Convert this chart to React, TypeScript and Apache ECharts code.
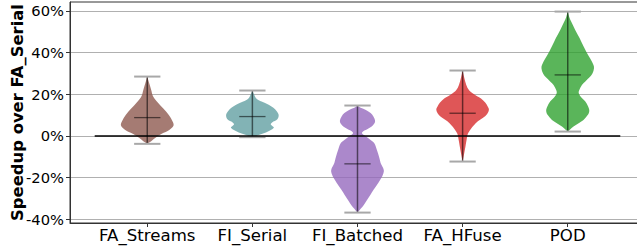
import React, { useEffect, useRef } from "react";
import * as echarts from "echarts";

const CATEGORIES = ["FA_Streams", "FI_Serial", "FI_Batched", "FA_HFuse", "POD"];
const COLORS = ["#8c564b", "#5f9ea0", "#9467bd", "#d62728", "#2ca02c"];
const MINS = [-3.8, -0.6, -36.8, -12.3, 2.1];
const MAXS = [28.5, 21.8, 14.6, 31.4, 59.7];
const MEDIANS = [8.8, 9.3, -13.4, 10.9, 29.3];
const Y_TICKS = [-40, -20, 0, 20, 40, 60];

// [value (%), relative density 0..1]
const PROFILE_FA_STREAMS = [
  [28.5, 0], [25, 0.08], [22, 0.15], [19, 0.22], [16, 0.4], [13, 0.62], [10, 0.82],
  [7, 0.96], [5, 1.0], [3, 0.85], [1, 0.55], [-1, 0.3], [-2.5, 0.15], [-3.8, 0],
];
const PROFILE_FI_SERIAL = [
  [21.8, 0], [20, 0.06], [18, 0.15], [16.5, 0.35], [15, 0.62], [13.5, 0.8], [12, 0.92],
  [10, 1.0], [8, 0.95], [6.5, 0.75], [5.5, 0.7], [4, 0.82], [2.5, 0.65], [1, 0.38],
  [0, 0.15], [-0.6, 0],
];
const PROFILE_FI_BATCHED = [
  [14.6, 0], [13.5, 0.12], [12.5, 0.32], [11, 0.5], [9.5, 0.6], [7, 0.67], [5, 0.58],
  [3.5, 0.4], [2.3, 0.22], [1.3, 0.17], [0, 0.3], [-2, 0.5], [-3.5, 0.64], [-6, 0.72],
  [-8.3, 0.78], [-11, 0.84], [-13, 0.88], [-16.3, 1.0], [-18.5, 0.97], [-20.3, 0.9],
  [-24.3, 0.7], [-27, 0.55], [-29.1, 0.45], [-31, 0.35], [-33.1, 0.24], [-35, 0.12],
  [-36.8, 0],
];
const PROFILE_FA_HFUSE = [
  [31.4, 0], [28, 0.06], [24.5, 0.14], [22, 0.24], [20.5, 0.38], [19, 0.55], [18, 0.7],
  [16, 0.86], [14, 0.96], [12.5, 1.0], [10, 0.9], [8.5, 0.75], [7, 0.58], [5, 0.42],
  [3.5, 0.32], [1, 0.2], [-2, 0.15], [-5, 0.11], [-9, 0.05], [-12.3, 0],
];
const PROFILE_POD = [
  [59.7, 0], [57, 0.06], [54.9, 0.13], [51, 0.28], [47, 0.45], [43, 0.6], [40.5, 0.7],
  [37, 0.86], [34, 0.98], [32.5, 1.0], [30, 0.94], [28, 0.82], [26, 0.66], [24.5, 0.54],
  [22, 0.44], [20.5, 0.42], [18.5, 0.52], [16.5, 0.67], [14, 0.78], [12, 0.82],
  [10, 0.76], [7.7, 0.6], [6, 0.4], [4.5, 0.22], [3, 0.08], [2.1, 0],
];
const PROFILES = [PROFILE_FA_STREAMS, PROFILE_FI_SERIAL, PROFILE_FI_BATCHED, PROFILE_FA_HFUSE, PROFILE_POD];

const HALF_WIDTH = 0.25;
const CAP_HALF = 0.125;
const ZERO_LINE = [[0.5, 0], [5.5, 0]];

export default function App() {
  const ref = useRef<HTMLDivElement>(null);
  useEffect(() => {
    if (!ref.current) return;
    const chart = echarts.init(ref.current, null, { renderer: "svg" });
    const font = "DejaVu Sans";
    chart.setOption({
      animation: false,
      grid: {
        left: 70, right: -2, top: 2, bottom: 26,
        containLabel: false,
        outerBoundsMode: "none",
        show: true, borderColor: "#333", borderWidth: 1,
      },
      xAxis: {
        type: "value",
        min: 0.265,
        max: 5.678,
        axisLine: { show: true, onZero: false, lineStyle: { color: "#333", width: 1 } },
        axisTick: { show: true, length: 4, customValues: [1, 2, 3, 4, 5], lineStyle: { color: "#333" } },
        axisLabel: {
          customValues: [1, 2, 3, 4, 5],
          formatter: (v: number) => CATEGORIES[Math.round(v) - 1] ?? "",
          color: "#000", fontFamily: font, fontSize: 16.6, margin: 4,
        },
        splitLine: { show: false },
      },
      yAxis: {
        type: "value",
        min: -41.8,
        max: 64.3,
        name: "Speedup over FA_Serial",
        nameLocation: "middle",
        nameGap: 45,
        nameMoveOverlap: false,
        nameTextStyle: { fontFamily: font, fontWeight: "bold", fontSize: 16.4, color: "#000" },
        axisLine: { show: true, lineStyle: { color: "#333", width: 1 } },
        axisTick: { show: true, length: 4, customValues: Y_TICKS, lineStyle: { color: "#333" } },
        axisLabel: {
          customValues: Y_TICKS,
          formatter: (v: number) => `${v}%`,
          color: "#000", fontFamily: font, fontSize: 14.7, margin: 6,
        },
        splitLine: { show: true, lineStyle: { color: "#b0b0b0", width: 1 } },
      },
      series: [
        {
          type: "custom",
          clip: false,
          data: CATEGORIES.map((_, i) => [i + 1, MEDIANS[i], MINS[i], MAXS[i]]),
          encode: { x: 0, y: [1, 2, 3] },
          renderItem: (params: any, api: any) => {
            const i = params.dataIndex;
            const pos = i + 1;
            const prof = PROFILES[i];
            const leftPts = prof.map(([v, d]) => api.coord([pos - d * HALF_WIDTH, v]));
            const rightPts = prof.slice().reverse().map(([v, d]) => api.coord([pos + d * HALF_WIDTH, v]));
            const pts = leftPts.concat(rightPts);
            const top = api.coord([pos, MAXS[i]]);
            const bot = api.coord([pos, MINS[i]]);
            const capTL = api.coord([pos - CAP_HALF, MAXS[i]]);
            const capTR = api.coord([pos + CAP_HALF, MAXS[i]]);
            const capBL = api.coord([pos - CAP_HALF, MINS[i]]);
            const capBR = api.coord([pos + CAP_HALF, MINS[i]]);
            const medL = api.coord([pos - CAP_HALF, MEDIANS[i]]);
            const medR = api.coord([pos + CAP_HALF, MEDIANS[i]]);
            return {
              type: "group",
              children: [
                {
                  type: "polygon",
                  shape: { points: pts, smooth: 0.35 },
                  style: { fill: COLORS[i], opacity: 0.78, stroke: "none" },
                },
                {
                  type: "line",
                  shape: { x1: top[0], y1: top[1], x2: bot[0], y2: bot[1] },
                  style: { stroke: "rgba(0,0,0,0.55)", lineWidth: 1.5 },
                },
                {
                  type: "line",
                  shape: { x1: capTL[0], y1: capTL[1], x2: capTR[0], y2: capTR[1] },
                  style: { stroke: "#a8a8a8", lineWidth: 2 },
                },
                {
                  type: "line",
                  shape: { x1: capBL[0], y1: capBL[1], x2: capBR[0], y2: capBR[1] },
                  style: { stroke: "#a8a8a8", lineWidth: 2 },
                },
                {
                  type: "line",
                  shape: { x1: medL[0], y1: medL[1], x2: medR[0], y2: medR[1] },
                  style: { stroke: "rgba(0,0,0,0.55)", lineWidth: 1.3 },
                },
              ],
            };
          },
        },
        {
          type: "line",
          data: ZERO_LINE,
          showSymbol: false,
          symbol: "none",
          z: 10,
          lineStyle: { color: "#000", width: 1.5 },
          silent: true,
        },
      ],
    });
    return () => chart.dispose();
  }, []);
  return (
    <div
      ref={ref}
      style={{ position: "fixed", left: 0, top: 0, width: 637, height: 249, background: "#fff" }}
    />
  );
}
